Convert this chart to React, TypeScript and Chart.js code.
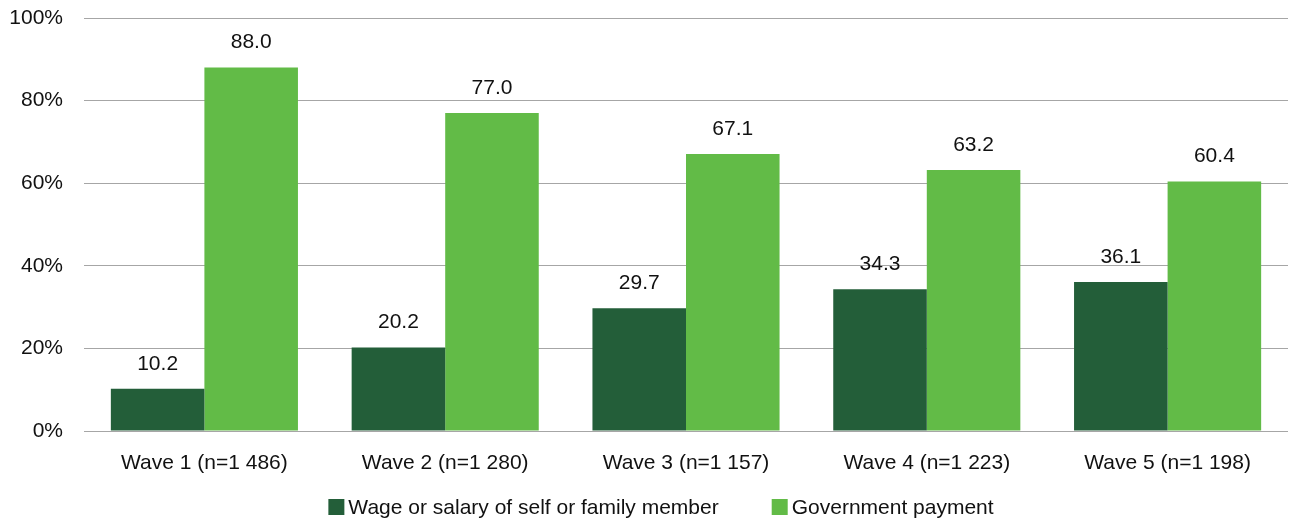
import React, { useEffect, useRef } from "react";
import { Chart, registerables } from "chart.js";

Chart.register(...registerables);

const categories = [
  "Wave 1 (n=1 486)",
  "Wave 2 (n=1 280)",
  "Wave 3 (n=1 157)",
  "Wave 4 (n=1 223)",
  "Wave 5 (n=1 198)",
];
const wageSalary = [10.2, 20.2, 29.7, 34.3, 36.1];
const governmentPayment = [88.0, 77.0, 67.1, 63.2, 60.4];
const seriesNames = ["Wage or salary of self or family member", "Government payment"];
const seriesColors = ["#235E39", "#62BB47"];
const yTicks = [0, 20, 40, 60, 80, 100];

const FONT = "'Liberation Sans', Arial, Helvetica, sans-serif";
const FONT_SIZE = 21;

// Writes each bar's value a little above its top
const valueLabels = {
  id: "valueLabels",
  afterDatasetsDraw(chart: any) {
    const { ctx } = chart;
    ctx.save();
    ctx.font = `${FONT_SIZE}px ${FONT}`;
    ctx.fillStyle = "#111111";
    ctx.textAlign = "center";
    ctx.textBaseline = "middle";
    chart.data.datasets.forEach((ds: any, di: number) => {
      const meta = chart.getDatasetMeta(di);
      meta.data.forEach((bar: any, i: number) => {
        const v = ds.data[i] as number;
        ctx.fillText(v.toFixed(1), bar.x, bar.y - 25);
      });
    });
    ctx.restore();
  },
};

// Legend row under the axis: square swatch followed closely by its name
const bottomLegend = {
  id: "bottomLegend",
  afterDraw(chart: any) {
    const { ctx, width, height } = chart;
    const box = 16;
    const gap = 4;
    const itemGap = 53;
    ctx.save();
    ctx.font = `${FONT_SIZE}px ${FONT}`;
    const widths = seriesNames.map((n) => ctx.measureText(n).width);
    const total =
      widths.reduce((a, w) => a + box + gap + w, 0) + itemGap * (seriesNames.length - 1);
    let x = width / 2 + 13 - total / 2;
    const cy = height - 12;
    ctx.textBaseline = "middle";
    ctx.textAlign = "left";
    seriesNames.forEach((name, i) => {
      ctx.fillStyle = seriesColors[i];
      ctx.fillRect(x, cy - box / 2, box, box);
      ctx.fillStyle = "#111111";
      ctx.fillText(name, x + box + gap, cy + 1);
      x += box + gap + widths[i] + itemGap;
    });
    ctx.restore();
  },
};

export default function App() {
  const canvasRef = useRef<HTMLCanvasElement | null>(null);

  useEffect(() => {
    if (!canvasRef.current) return;
    const chart = new Chart(canvasRef.current, {
      type: "bar",
      data: {
        labels: categories,
        datasets: seriesNames.map((name, i) => ({
          label: name,
          data: i === 0 ? wageSalary : governmentPayment,
          backgroundColor: seriesColors[i],
          categoryPercentage: 0.777,
          barPercentage: 1,
        })),
      },
      options: {
        animation: false,
        responsive: true,
        maintainAspectRatio: false,
        layout: { padding: { top: 18, right: 8, left: 10, bottom: 38 } },
        plugins: {
          tooltip: { enabled: false },
          legend: { display: false },
        },
        scales: {
          x: {
            grid: { display: false },
            border: { display: false },
            ticks: {
              color: "#111111",
              font: { family: FONT, size: FONT_SIZE },
              padding: 12,
            },
            afterFit(axis: any) {
              axis.height = 50;
            },
          },
          y: {
            min: 0,
            max: 100,
            afterBuildTicks(axis: any) {
              axis.ticks = yTicks.map((v) => ({ value: v }));
            },
            grid: { color: "#A6A6A6", lineWidth: 1, drawTicks: false },
            border: { display: false },
            ticks: {
              color: "#111111",
              font: { family: FONT, size: FONT_SIZE },
              padding: 21,
              callback: (v: any) => `${v}%`,
            },
            afterFit(axis: any) {
              axis.width = 74;
              axis.paddingTop = 0;
              axis.paddingBottom = 0;
            },
          },
        },
      },
      plugins: [valueLabels, bottomLegend],
    });
    return () => chart.destroy();
  }, []);

  return (
    <div style={{ position: "absolute", left: 0, top: 0, width: 1296, height: 519 }}>
      <canvas ref={canvasRef} />
    </div>
  );
}
